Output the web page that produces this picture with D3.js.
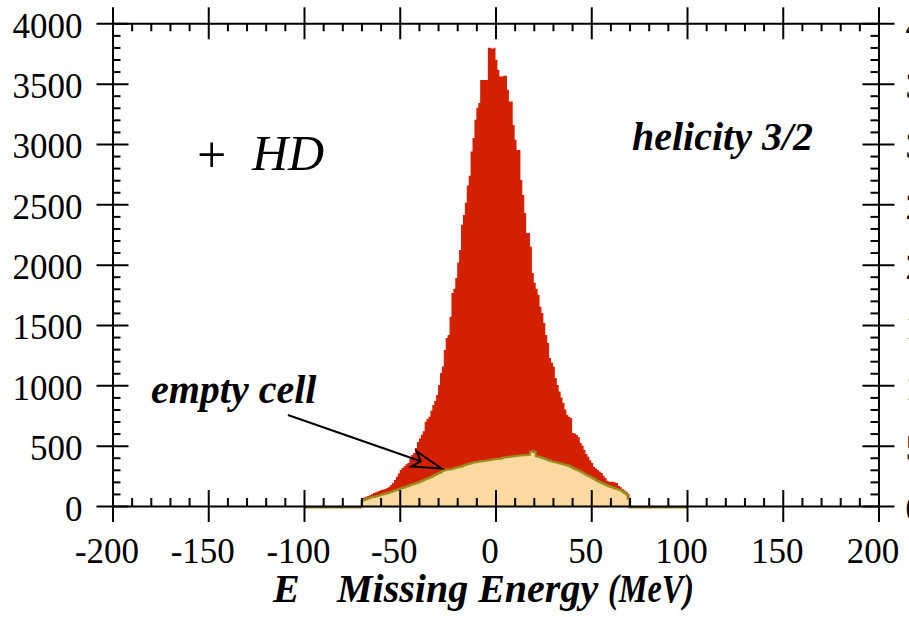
<!DOCTYPE html>
<html><head><meta charset="utf-8">
<script src="https://cdn.jsdelivr.net/npm/d3@7"></script>
<style>
html,body{margin:0;padding:0;background:#fff;overflow:hidden}
svg{display:block}
text{font-family:"Liberation Serif","DejaVu Serif",serif;fill:#000}
</style></head><body>
<svg id="chart" width="909" height="617"></svg>
<script>
// Missing-energy histogram: all events (red) and empty-cell background (tan), 1 MeV bins
const binStart = -70;
const binWidth = 1;
const totalCounts = [
  62,70,77,82,90,98,108,114,120,126,
  133,136,140,150,160,175,190,215,243,270,
  298,315,330,345,356,390,423,440,480,530,
  560,590,620,699,720,740,790,837,870,920,
  1003,1102,1155,1293,1393,1418,1569,1766,1800,1890,
  2017,2122,2330,2412,2512,2655,2736,2937,3050,3200,
  3300,3340,3531,3531,3531,3531,3797,3797,3790,3797,
  3697,3614,3559,3559,3565,3565,3449,3352,3352,3158,
  3034,2951,2951,2702,2578,2429,2263,2263,2150,1931,
  1849,1800,1750,1652,1600,1517,1418,1351,1227,1190,
  1155,1061,1003,948,900,854,800,754,740,730,
  605,600,588,570,522,500,464,430,409,380,
  356,326,310,298,285,273,250,232,210,201,
  200,201,195,190,165,155,140,128,118,100
];
const emptyCellCounts = [
  55,62,68,75,80,85,88,91,96,102,
  106,110,114,118,122,128,134,140,146,152,
  158,162,168,174,178,184,190,195,200,206,
  212,220,226,234,240,246,252,262,270,278,
  286,293,302,308,312,314,318,322,326,330,
  334,338,340,348,354,359,362,366,372,376,
  378,381,383,385,388,390,392,394,397,400,
  402,405,404,410,414,416,418,421,423,425,
  426,428,430,431,433,434,436,438,462,466,
  460,424,420,416,410,406,400,394,388,383,
  378,374,370,366,362,358,354,350,346,336,
  328,320,312,306,298,290,280,272,264,256,
  246,238,228,220,212,204,196,188,182,176,
  170,164,158,154,148,142,132,120,108,72
];
// the empty-cell histogram is booked over a wider window (zero outside the data)
const emptyCellRange = [-100, 100];

const xDomain = [-200, 200];
const yDomain = [0, 4000];
const xTicks = [-200, -150, -100, -50, 0, 50, 100, 150, 200];
const yTicks = [0, 500, 1000, 1500, 2000, 2500, 3000, 3500, 4000];
const xMinorStep = 10;
const yMinorStep = 100;

const xTitleParts = ["E", "Missing Energy", "(MeV)"];
const targetText = ["+", "HD"];
const helicityText = "helicity 3/2";
const noteText = "empty cell";
// annotation arrow in data units: [MeV, counts]
const noteArrowFrom = [-108.4, 754];
const noteArrowTo = [-28.2, 311];

const svg = d3.select("#chart");
const frame = {left: 112.5, right: 878.5, top: 23.3, bottom: 506};
const x = d3.scaleLinear().domain(xDomain).range([frame.left, frame.right]);
const y = d3.scaleLinear().domain(yDomain).range([frame.bottom, frame.top]);

const RED = "#d32000", TAN = "#fdd9a2", OLIVE = "#9b8a1c";
const plain = d => String(d);   // hyphen-minus, as in the printed axis

// bin series -> step points with a closing edge
function stepPoints(start, width, counts) {
  const pts = counts.map((v, i) => ({e: start + i * width, v}));
  pts.push({e: start + counts.length * width, v: counts[counts.length - 1]});
  return pts;
}
const totalPts = stepPoints(binStart, binWidth, totalCounts);

const emptyBins = [];
for (let e = emptyCellRange[0]; e < emptyCellRange[1]; e += binWidth) {
  const i = Math.round((e - binStart) / binWidth);
  emptyBins.push(i >= 0 && i < emptyCellCounts.length ? emptyCellCounts[i] : 0);
}
const emptyPts = emptyBins.map((v, i) => ({e: emptyCellRange[0] + i * binWidth, v}));
emptyPts.push({e: emptyCellRange[1], v: 0});

const area = d3.area().curve(d3.curveStepAfter)
  .x(d => x(d.e)).y0(y(0)).y1(d => y(d.v));
const line = d3.line().curve(d3.curveStepAfter)
  .x(d => x(d.e)).y(d => y(d.v));

svg.append("path").datum(totalPts).attr("d", area).attr("fill", RED);
const bg = svg.append("g").attr("transform", "translate(0,1.5)");
bg.append("path").datum(emptyPts).attr("d", area).attr("fill", TAN);
bg.append("path").datum(emptyPts).attr("d", line)
  .attr("fill", "none").attr("stroke", OLIVE).attr("stroke-width", 2);

// axes: major ticks cross the frame, minor ticks point inward
const MAJ = 16, MIN = 8;
const xMinor = d3.range(xDomain[0], xDomain[1] + 1e-9, xMinorStep).filter(v => !xTicks.includes(v));
const yMinor = d3.range(yDomain[0], yDomain[1] + 1e-9, yMinorStep).filter(v => !yTicks.includes(v));

function styleAxis(g) {
  g.selectAll("path.domain").attr("stroke", "#000").attr("stroke-width", 2);
  g.selectAll(".tick line").attr("stroke", "#000").attr("stroke-width", 2);
  g.attr("font-family", null).attr("font-size", null);
}

// bottom
const gB = svg.append("g").attr("transform", `translate(0,${frame.bottom})`);
gB.call(d3.axisBottom(x).tickValues(xTicks).tickSizeInner(MAJ).tickSizeOuter(0).tickFormat(plain));
gB.selectAll(".tick line").attr("y1", -MAJ);
gB.selectAll(".tick text").attr("y", 57).attr("dy", 0).attr("dx", -6)
  .style("font-size", "35px").attr("text-anchor", "middle");
styleAxis(gB);
const gBm = svg.append("g").attr("transform", `translate(0,${frame.bottom})`);
gBm.call(d3.axisBottom(x).tickValues(xMinor).tickSize(-MIN).tickFormat(""));
gBm.select("path.domain").remove();
styleAxis(gBm);

// top
const gT = svg.append("g").attr("transform", `translate(0,${frame.top})`);
gT.call(d3.axisTop(x).tickValues(xTicks).tickSizeInner(MAJ).tickSizeOuter(0).tickFormat(""));
gT.selectAll(".tick line").attr("y1", MAJ);
styleAxis(gT);
const gTm = svg.append("g").attr("transform", `translate(0,${frame.top})`);
gTm.call(d3.axisTop(x).tickValues(xMinor).tickSize(-MIN).tickFormat(""));
gTm.select("path.domain").remove();
styleAxis(gTm);

// left
const gL = svg.append("g").attr("transform", `translate(${frame.left},0)`);
gL.call(d3.axisLeft(y).tickValues(yTicks).tickSizeInner(MAJ).tickSizeOuter(0).tickFormat(plain));
gL.selectAll(".tick line").attr("x1", MAJ);
gL.selectAll(".tick text").attr("x", -30).attr("dy", 0).attr("y", 14)
  .style("font-size", "35px").attr("text-anchor", "end");
styleAxis(gL);
const gLm = svg.append("g").attr("transform", `translate(${frame.left},0)`);
gLm.call(d3.axisLeft(y).tickValues(yMinor).tickSize(-MIN).tickFormat(""));
gLm.select("path.domain").remove();
styleAxis(gLm);

// right (labels run off the edge of the page)
const gR = svg.append("g").attr("transform", `translate(${frame.right},0)`);
gR.call(d3.axisRight(y).tickValues(yTicks).tickSizeInner(MAJ).tickSizeOuter(0).tickFormat(plain));
gR.selectAll(".tick line").attr("x1", -MAJ);
gR.selectAll(".tick text").attr("x", 27).attr("dy", 0).attr("y", 14)
  .style("font-size", "35px").attr("text-anchor", "start");
styleAxis(gR);
const gRm = svg.append("g").attr("transform", `translate(${frame.right},0)`);
gRm.call(d3.axisRight(y).tickValues(yMinor).tickSize(-MIN).tickFormat(""));
gRm.select("path.domain").remove();
styleAxis(gRm);

// x-axis title
const bi = {"font-size": "40px", "font-weight": "bold", "font-style": "italic"};
function applyStyle(sel, st) { Object.entries(st).forEach(([k, v]) => sel.style(k, v)); return sel; }
const titleX = [273, 337, 608];
xTitleParts.forEach((t, i) => {
  const s = svg.append("text").attr("x", titleX[i]).attr("y", 602).text(t);
  applyStyle(s, bi);
  if (i === 2) s.attr("textLength", 86).attr("lengthAdjust", "spacingAndGlyphs");
});

// target label
svg.append("text").attr("x", 197).attr("y", 172).style("font-size", "52px").text(targetText[0]);
svg.append("text").attr("x", 252).attr("y", 170).style("font-size", "50px")
  .style("font-style", "italic").text(targetText[1]);

// helicity label
applyStyle(svg.append("text").attr("x", 632).attr("y", 150).text(helicityText), bi);

// annotation
applyStyle(svg.append("text").attr("x", 151).attr("y", 403).text(noteText), bi);

const ax0 = x(noteArrowFrom[0]), ay0 = y(noteArrowFrom[1]);
const ax1 = x(noteArrowTo[0]), ay1 = y(noteArrowTo[1]);
const ang = Math.atan2(ay1 - ay0, ax1 - ax0);
const len = Math.hypot(ax1 - ax0, ay1 - ay0);
const arrow = svg.append("g")
  .attr("transform", `translate(${ax0},${ay0}) rotate(${ang * 180 / Math.PI})`);
arrow.append("line").attr("x1", 0).attr("y1", 0).attr("x2", len - 22).attr("y2", 0)
  .attr("stroke", "#000").attr("stroke-width", 2);
arrow.append("path")
  .attr("d", `M${len},0 L${len - 29},-8 L${len - 22},0 L${len - 29},8 Z`)
  .attr("fill", "none").attr("stroke", "#000").attr("stroke-width", 2)
  .attr("stroke-linejoin", "miter");
</script>
</body></html>
